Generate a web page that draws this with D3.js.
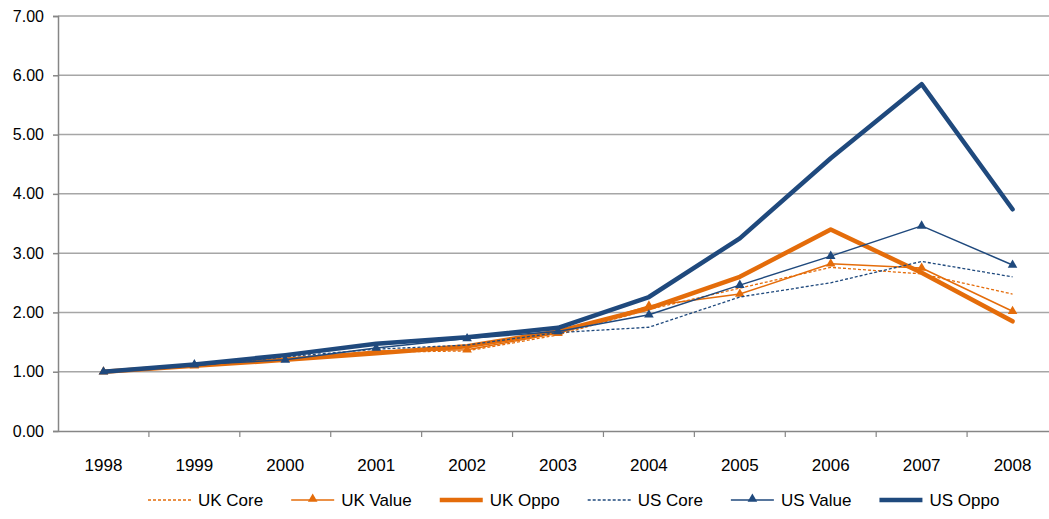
<!DOCTYPE html>
<html lang="en">
<head>
<meta charset="utf-8">
<script src="https://d3js.org/d3.v7.min.js"></script>
<style>
  body { margin: 0; background: #fff; }
  svg text { font-family: "Liberation Sans Narrow", "Arial Narrow", "Liberation Sans", sans-serif; fill: #000; }
</style>
</head>
<body>
<script>
// data
const years = ["1998", "1999", "2000", "2001", "2002", "2003", "2004", "2005", "2006", "2007", "2008"];
const ukCore  = [1.00, 1.10, 1.22, 1.33, 1.35, 1.62, 2.05, 2.41, 2.76, 2.65, 2.31];
const ukValue = [1.00, 1.10, 1.22, 1.35, 1.37, 1.65, 2.11, 2.31, 2.82, 2.75, 2.02];
const ukOppo  = [1.00, 1.10, 1.20, 1.31, 1.43, 1.68, 2.07, 2.60, 3.40, 2.67, 1.85];
const usCore  = [1.00, 1.10, 1.25, 1.38, 1.45, 1.66, 1.75, 2.26, 2.50, 2.86, 2.60];
const usValue = [1.00, 1.12, 1.20, 1.40, 1.56, 1.68, 1.96, 2.46, 2.95, 3.46, 2.80];
const usOppo  = [1.00, 1.12, 1.28, 1.47, 1.58, 1.74, 2.26, 3.25, 4.60, 5.85, 3.74];
const yTicks = [0, 1, 2, 3, 4, 5, 6, 7];

const orange = "#E46C0A", blue = "#1F497D";
const series = [
  { name: "UK Core",  vals: ukCore,  color: orange, w: 1.3, dash: "3,2", marker: false },
  { name: "UK Value", vals: ukValue, color: orange, w: 1.5, dash: null,  marker: true },
  { name: "UK Oppo",  vals: ukOppo,  color: orange, w: 4.5, dash: null,  marker: false },
  { name: "US Core",  vals: usCore,  color: blue,   w: 1.3, dash: "3,2", marker: false },
  { name: "US Value", vals: usValue, color: blue,   w: 1.5, dash: null,  marker: true },
  { name: "US Oppo",  vals: usOppo,  color: blue,   w: 4.5, dash: null,  marker: false }
];

const W = 1049, H = 519;
const mLeft = 58, mRight = 1058, mTop = 16, mBottom = 431;

const svg = d3.select("body").append("svg").attr("width", W).attr("height", H);

const x = d3.scaleBand().domain(years).range([mLeft, mRight]);
const y = d3.scaleLinear().domain([0, 7]).range([mBottom, mTop]);

// gridlines
svg.append("g").selectAll("line").data(yTicks.filter(d => d > 0)).enter().append("line")
  .attr("x1", mLeft).attr("x2", mRight)
  .attr("y1", d => y(d)).attr("y2", d => y(d))
  .attr("stroke", "#A6A6A6").attr("stroke-width", 1.5);

// y axis
const yAxis = svg.append("g").attr("transform", `translate(${mLeft},0)`)
  .call(d3.axisLeft(y).tickValues(yTicks).tickFormat(d3.format(".2f")).tickSize(5).tickPadding(9));
yAxis.select(".domain").attr("stroke", "#868686").attr("stroke-width", 1.5);
yAxis.selectAll(".tick line").attr("stroke", "#868686").attr("stroke-width", 1.5);
yAxis.selectAll("text").style("font-size", "16px").attr("fill", "#000");

// x axis
const xAxis = svg.append("g").attr("transform", `translate(0,${mBottom})`)
  .call(d3.axisBottom(x).tickSize(0).tickPadding(28));
xAxis.select(".domain").attr("stroke", "#868686").attr("stroke-width", 1.5);
xAxis.selectAll("text").style("font-size", "17px").attr("fill", "#000");
xAxis.selectAll(".sep").data(years).enter().append("line")
  .attr("x1", (d, i) => mLeft + x.step() * (i + 1)).attr("x2", (d, i) => mLeft + x.step() * (i + 1))
  .attr("y1", 0).attr("y2", 6).attr("stroke", "#868686").attr("stroke-width", 1.2);

// lines
const line = d3.line().x((d, i) => x(years[i]) + x.bandwidth() / 2).y(d => y(d));
const tri = d3.symbol().type(d3.symbolTriangle).size(40);

series.forEach(s => {
  svg.append("path").datum(s.vals)
    .attr("fill", "none").attr("stroke", s.color).attr("stroke-width", s.w)
    .attr("stroke-linejoin", "round").attr("stroke-linecap", s.w > 3 ? "round" : "butt")
    .attr("stroke-dasharray", s.dash)
    .attr("d", line);
  if (s.marker) {
    svg.append("g").selectAll("path").data(s.vals).enter().append("path")
      .attr("d", tri)
      .attr("transform", (d, i) => `translate(${x(years[i]) + x.bandwidth() / 2},${y(d)})`)
      .attr("fill", s.color);
  }
});

// legend
const leg = svg.append("g").attr("transform", "translate(0,500)");
let lx = 148;
series.forEach(s => {
  const g = leg.append("g").attr("transform", `translate(${lx},0)`);
  g.append("line").attr("x1", 0).attr("x2", 43).attr("y1", 0).attr("y2", 0)
    .attr("stroke", s.color).attr("stroke-width", s.w).attr("stroke-dasharray", s.dash);
  if (s.marker) g.append("path").attr("d", tri).attr("transform", "translate(21.5,-1)").attr("fill", s.color);
  const t = g.append("text").attr("x", 50).attr("y", 6).style("font-size", "17px").text(s.name);
  lx += 50 + t.node().getComputedTextLength() + 28;
});
</script>
</body>
</html>
